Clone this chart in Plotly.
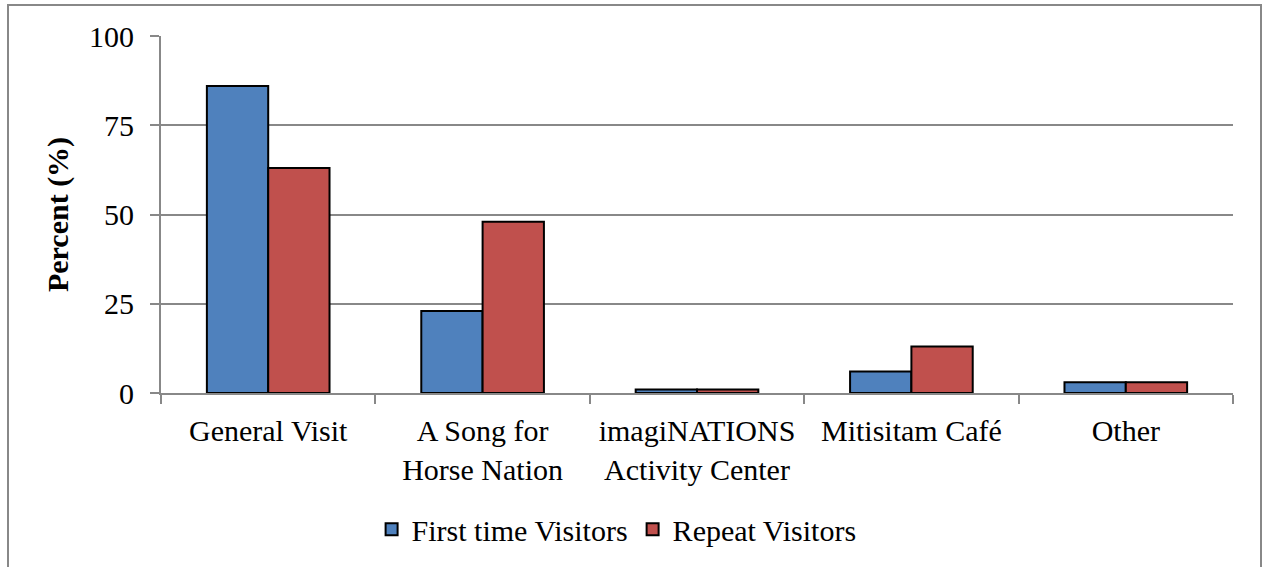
import plotly.graph_objects as go

categories = ["General Visit", "A Song for<br>Horse Nation", "imagiNATIONS<br>Activity Center",
              "Mitisitam Café", "Other"]
first_time = [86, 23, 1, 6, 3]
repeat = [63, 48, 1, 13, 3]
y_ticks = [0, 25, 50, 75, 100]

FONT = "Liberation Serif"
FS = 30
GRID = "#888888"

fig = go.Figure()
fig.add_trace(go.Bar(name="First time Visitors", x=categories, y=first_time,
                     marker=dict(color="#4F81BD", line=dict(color="black", width=2))))
fig.add_trace(go.Bar(name="Repeat Visitors", x=categories, y=repeat,
                     marker=dict(color="#C0504D", line=dict(color="black", width=2))))

W, H = 1263, 567
L, R, T, B = 161, 30, 36, 173.5
pw, ph = W - L - R, H - T - B

fig.update_layout(
    width=W, height=H,
    margin=dict(l=L, r=R, t=T, b=B, pad=0),
    paper_bgcolor="white", plot_bgcolor="white",
    barmode="group", bargap=0.428, bargroupgap=0,
    font=dict(family=FONT, size=FS, color="black"),
    showlegend=True,
    legend=dict(orientation="h", x=0.425, xanchor="center", y=(T + ph - 530) / ph,
                yanchor="middle", font=dict(family=FONT, size=FS, color="black"),
                itemwidth=30, bgcolor="rgba(0,0,0,0)"),
    xaxis=dict(showline=True, linecolor=GRID, linewidth=2, ticks="outside",
               ticklen=9, tickcolor=GRID, tickwidth=2, tickson="boundaries",
               showgrid=False, ticklabelstandoff=10,
               tickfont=dict(family=FONT, size=FS, color="black")),
    yaxis=dict(range=[0, 100], tickvals=y_ticks, showline=True, linecolor=GRID,
               linewidth=2, ticks="outside", ticklen=9, tickcolor=GRID, tickwidth=2,
               showgrid=True, gridcolor=GRID, gridwidth=2, zeroline=False,
               ticklabelstandoff=10,
               tickfont=dict(family=FONT, size=FS, color="black"),
               title=dict(text="<b>Percent (%)</b>",
                          font=dict(family=FONT, size=FS, color="black"),
                          standoff=12)),
)

# outer chart border
fig.add_shape(type="rect", xref="paper", yref="paper",
              x0=(8 - L) / pw, x1=(1261 - L) / pw,
              y0=-0.7, y1=1 + (T - 5) / ph,
              line=dict(color=GRID, width=2), layer="below")

fig.write_html("out.html")
